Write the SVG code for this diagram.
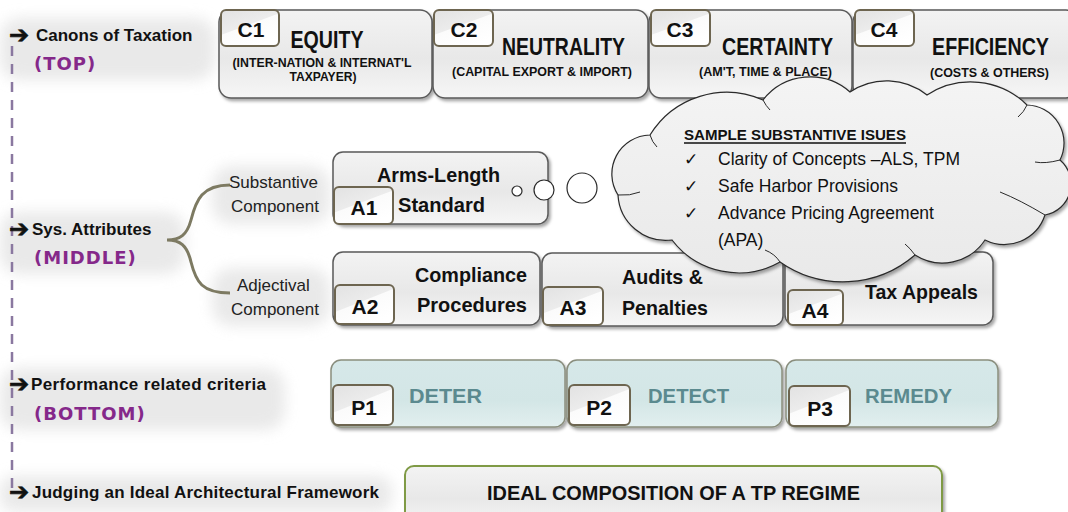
<svg xmlns="http://www.w3.org/2000/svg" width="1068" height="512" viewBox="0 0 1068 512">
<defs>
<linearGradient id="gBox" x1="0" y1="0" x2="0" y2="1">
<stop offset="0" stop-color="#f3f3f3"/><stop offset="0.55" stop-color="#e8e8e8"/><stop offset="1" stop-color="#f6f6f6"/>
</linearGradient>
<linearGradient id="gTab" x1="0" y1="0" x2="0.6" y2="1">
<stop offset="0" stop-color="#e2e2e2"/><stop offset="0.5" stop-color="#ececec"/><stop offset="0.52" stop-color="#fbfbfb"/><stop offset="1" stop-color="#ffffff"/>
</linearGradient>
<linearGradient id="gP" x1="0" y1="0" x2="0" y2="1">
<stop offset="0" stop-color="#d6e8e9"/><stop offset="0.6" stop-color="#d3e6e6"/><stop offset="1" stop-color="#e2efef"/>
</linearGradient>
<linearGradient id="gCloud" x1="0" y1="0" x2="0" y2="1">
<stop offset="0" stop-color="#f4f4f4"/><stop offset="1" stop-color="#e9e9e9"/>
</linearGradient>
<filter id="sh" x="-10%" y="-10%" width="130%" height="140%">
<feDropShadow dx="2" dy="2.5" stdDeviation="1.8" flood-color="#000" flood-opacity="0.35"/>
</filter>
<filter id="blur" x="-20%" y="-50%" width="140%" height="200%">
<feGaussianBlur stdDeviation="7"/>
</filter>
<style>
.box{fill:url(#gBox);stroke:#5a5a5a;stroke-width:1.5;filter:url(#sh)}
.pbox{fill:url(#gP);stroke:#8a8e7e;stroke-width:1.5;filter:url(#sh)}
.tab{fill:url(#gTab);stroke:#6d6550;stroke-width:2}
.glow{fill:#e2e2e2;filter:url(#blur);opacity:0.75}
.t{font-family:"Liberation Sans Narrow","Liberation Sans",Arial,sans-serif;font-weight:bold;fill:#111}
.tabt{font-family:"Liberation Sans",Arial,sans-serif;font-weight:bold;font-size:21px;fill:#111;text-anchor:middle}
.lbl{font-family:"Liberation Sans",Arial,sans-serif;font-weight:bold;font-size:17px;fill:#111}
.reg{font-family:"Liberation Sans",Arial,sans-serif;font-size:17px;fill:#222}
.arr{font-family:"DejaVu Sans",sans-serif;font-weight:bold;font-size:24px;fill:#111;stroke:#111;stroke-width:0.7}
.chk{font-family:"DejaVu Sans",sans-serif;font-size:17px;fill:#111}
.hand{font-family:"DejaVu Sans",sans-serif;font-weight:bold;font-size:18px;fill:#85288a;letter-spacing:1px}
.pt{font-family:"Liberation Sans",Arial,sans-serif;font-weight:bold;font-size:21px;fill:#5b8a8f}
.ct{font-family:"Liberation Sans",Arial,sans-serif;font-size:17.5px;fill:#111}
.mid{text-anchor:middle}
</style>
</defs>

<rect width="1068" height="512" fill="#ffffff"/>

<g id="glows">
<rect class="glow" x="0" y="18" width="215" height="62" rx="20"/>
<rect class="glow" x="0" y="212" width="185" height="62" rx="20"/>
<rect class="glow" x="212" y="166" width="118" height="58" rx="20"/>
<rect class="glow" x="212" y="268" width="118" height="58" rx="20"/>
<rect class="glow" x="0" y="368" width="285" height="62" rx="20"/>
<rect class="glow" x="0" y="476" width="392" height="36" rx="14"/>
</g>

<g id="connectors">
<line x1="12" y1="46" x2="12" y2="490" stroke="#8a78a0" stroke-width="2.5" stroke-dasharray="10 8"/>
<path d="M230 185 C202 185 196 200 191 220 C187 235 180 240 167 240 C180 240 187 245 191 262 C196 282 202 293 230 293" fill="none" stroke="#7d7a62" stroke-width="3"/>
</g>

<g id="labels">
<text class="arr" x="9" y="43">➔</text>
<text class="lbl" x="36" y="41">Canons of Taxation</text>
<text class="hand" x="34" y="70">(TOP)</text>
<text class="arr" x="9" y="237">➔</text>
<text class="lbl" x="32" y="235">Sys. Attributes</text>
<text class="hand" x="34" y="264">(MIDDLE)</text>
<text class="reg" x="229" y="188">Substantive</text>
<text class="reg" x="231" y="212">Component</text>
<text class="reg" x="237" y="291">Adjectival</text>
<text class="reg" x="231" y="315">Component</text>
<text class="arr" x="9" y="392">➔</text>
<text class="lbl" x="31" y="390" textLength="235">Performance related criteria</text>
<text class="hand" x="34" y="420">(BOTTOM)</text>
<text class="arr" x="9" y="500">➔</text>
<text class="lbl" x="32" y="498" textLength="347">Judging an Ideal Architectural Framework</text>
</g>

<g id="C1">
<rect class="box" x="219" y="10" width="213" height="88" rx="12"/>
<rect class="tab" x="221" y="10" width="58" height="36" rx="5"/>
<text class="tabt" x="251" y="37">C1</text>
<text class="t mid" x="327" y="48" font-size="23" textLength="73" lengthAdjust="spacingAndGlyphs">EQUITY</text>
<text class="t mid" x="322" y="67" font-size="13.5" textLength="179" lengthAdjust="spacingAndGlyphs">(INTER-NATION &amp; INTERNAT'L</text>
<text class="t mid" x="323" y="81" font-size="13.5" textLength="67" lengthAdjust="spacingAndGlyphs">TAXPAYER)</text>
</g>
<g id="C2">
<rect class="box" x="433" y="10" width="215" height="88" rx="12"/>
<rect class="tab" x="434" y="10" width="59" height="36" rx="5"/>
<text class="tabt" x="464" y="37">C2</text>
<text class="t mid" x="563.5" y="55" font-size="23" textLength="123" lengthAdjust="spacingAndGlyphs">NEUTRALITY</text>
<text class="t mid" x="542" y="76" font-size="13.5" textLength="180" lengthAdjust="spacingAndGlyphs">(CAPITAL EXPORT &amp; IMPORT)</text>
</g>
<g id="C3">
<rect class="box" x="649" y="10" width="203" height="88" rx="12"/>
<rect class="tab" x="651" y="10" width="59" height="36" rx="5"/>
<text class="tabt" x="680" y="37">C3</text>
<text class="t mid" x="777.5" y="55" font-size="23" textLength="111" lengthAdjust="spacingAndGlyphs">CERTAINTY</text>
<text class="t mid" x="765.5" y="76" font-size="13.5" textLength="133" lengthAdjust="spacingAndGlyphs">(AM'T, TIME &amp; PLACE)</text>
</g>
<g id="C4">
<rect class="box" x="853" y="10" width="225" height="88" rx="12"/>
<rect class="tab" x="855" y="10" width="59" height="36" rx="5"/>
<text class="tabt" x="884" y="37">C4</text>
<text class="t mid" x="990.5" y="55" font-size="23" textLength="117" lengthAdjust="spacingAndGlyphs">EFFICIENCY</text>
<text class="t mid" x="989.5" y="77" font-size="13.5" textLength="119" lengthAdjust="spacingAndGlyphs">(COSTS &amp; OTHERS)</text>
</g>

<g id="A1">
<rect class="box" x="333" y="152" width="215" height="72" rx="10"/>
<rect class="tab" x="334" y="187" width="59" height="37" rx="5"/>
<text class="tabt" x="364" y="215">A1</text>
<text class="t mid" x="438.5" y="182" font-size="21" textLength="123" lengthAdjust="spacingAndGlyphs">Arms-Length</text>
<text class="t" x="398" y="212" font-size="21" textLength="87" lengthAdjust="spacingAndGlyphs">Standard</text>
</g>
<g id="A2">
<rect class="box" x="333" y="252" width="207" height="73" rx="10"/>
<rect class="tab" x="335" y="285" width="59" height="39" rx="5"/>
<text class="tabt" x="365" y="314">A2</text>
<text class="t" x="415" y="282" font-size="21" textLength="112" lengthAdjust="spacingAndGlyphs">Compliance</text>
<text class="t" x="417" y="312" font-size="21" textLength="110" lengthAdjust="spacingAndGlyphs">Procedures</text>
</g>
<g id="A3">
<rect class="box" x="542" y="253" width="241" height="73" rx="10"/>
<rect class="tab" x="543" y="287" width="60" height="38" rx="5"/>
<text class="tabt" x="573" y="315">A3</text>
<text class="t" x="622" y="284" font-size="21" textLength="81" lengthAdjust="spacingAndGlyphs">Audits &amp;</text>
<text class="t" x="622" y="315" font-size="21" textLength="86" lengthAdjust="spacingAndGlyphs">Penalties</text>
</g>
<g id="A4">
<rect class="box" x="785" y="252" width="208" height="73" rx="10"/>
<rect class="tab" x="788" y="290" width="55" height="35" rx="5"/>
<text class="tabt" x="815" y="318">A4</text>
<text class="t" x="865" y="299" font-size="21" textLength="113" lengthAdjust="spacingAndGlyphs">Tax Appeals</text>
</g>

<g id="P1">
<rect class="pbox" x="331" y="360" width="234" height="67" rx="10"/>
<rect class="tab" x="333" y="385" width="60" height="40" rx="5"/>
<text class="tabt" x="364" y="415">P1</text>
<text class="pt" x="409" y="403" textLength="73" lengthAdjust="spacingAndGlyphs">DETER</text>
</g>
<g id="P2">
<rect class="pbox" x="567" y="360" width="215" height="67" rx="10"/>
<rect class="tab" x="569" y="385" width="61" height="40" rx="5"/>
<text class="tabt" x="599" y="415">P2</text>
<text class="pt" x="648" y="403" textLength="81" lengthAdjust="spacingAndGlyphs">DETECT</text>
</g>
<g id="P3">
<rect class="pbox" x="786" y="360" width="212" height="67" rx="10"/>
<rect class="tab" x="789" y="386" width="61" height="40" rx="5"/>
<text class="tabt" x="820" y="416">P3</text>
<text class="pt" x="865" y="403" textLength="87" lengthAdjust="spacingAndGlyphs">REMEDY</text>
</g>

<g id="IDEAL">
<rect x="405" y="466" width="537" height="60" rx="9" fill="url(#gBox)" stroke="#7f9a45" stroke-width="2" filter="url(#sh)"/>
<text class="t mid" x="673.5" y="500" font-size="21" textLength="373" lengthAdjust="spacingAndGlyphs">IDEAL COMPOSITION OF A TP REGIME</text>
</g>

<g id="cloud">
<path d="M650 135 A90 90 0 0 1 763 100 A60 60 0 0 1 850 92 A65 65 0 0 1 927 95 A80 80 0 0 1 1027 105 A38 38 0 0 1 1060 160 A31.5 31.5 0 0 1 1045 215 A43 43 0 0 1 985 240 A51 51 0 0 1 915 255 A110 110 0 0 1 780 262 A84 84 0 0 1 672 240 A48 48 0 0 1 618 195 A39 39 0 0 1 650 135 Z" fill="url(#gCloud)" stroke="#2a2a2a" stroke-width="1.2" filter="url(#sh)"/>
<g fill="none" stroke="#2a2a2a" stroke-width="1">
<path d="M650 135 Q652 142 657 147"/>
<path d="M763 100 Q766 106 770 110"/>
<path d="M1027 105 Q1024 112 1018 117"/>
<path d="M1060 160 Q1045 164 1035 162"/>
<path d="M1045 215 Q1020 200 1000 192"/>
<path d="M915 255 Q910 248 905 244"/>
<path d="M780 262 Q775 254 765 250"/>
<path d="M618 195 Q630 196 640 192"/>
</g>
<text class="t" x="684" y="140" font-size="15.5" textLength="222" lengthAdjust="spacingAndGlyphs">SAMPLE SUBSTANTIVE ISUES</text>
<line x1="684" y1="143" x2="906" y2="143" stroke="#111" stroke-width="1.3"/>
<text class="chk" x="684" y="165">✓</text>
<text class="ct" x="718" y="165" textLength="242" lengthAdjust="spacingAndGlyphs">Clarity of Concepts –ALS, TPM</text>
<text class="chk" x="684" y="192">✓</text>
<text class="ct" x="718" y="192">Safe Harbor Provisions</text>
<text class="chk" x="684" y="219">✓</text>
<text class="ct" x="718" y="219">Advance Pricing Agreement</text>
<text class="ct" x="718" y="246">(APA)</text>
</g>

<g id="bubbles" fill="#ffffff" stroke="#2a2a2a" stroke-width="1.2">
<circle cx="517" cy="191" r="5"/>
<circle cx="544" cy="190" r="10"/>
<circle cx="582" cy="188" r="15"/>
</g>
</svg>
